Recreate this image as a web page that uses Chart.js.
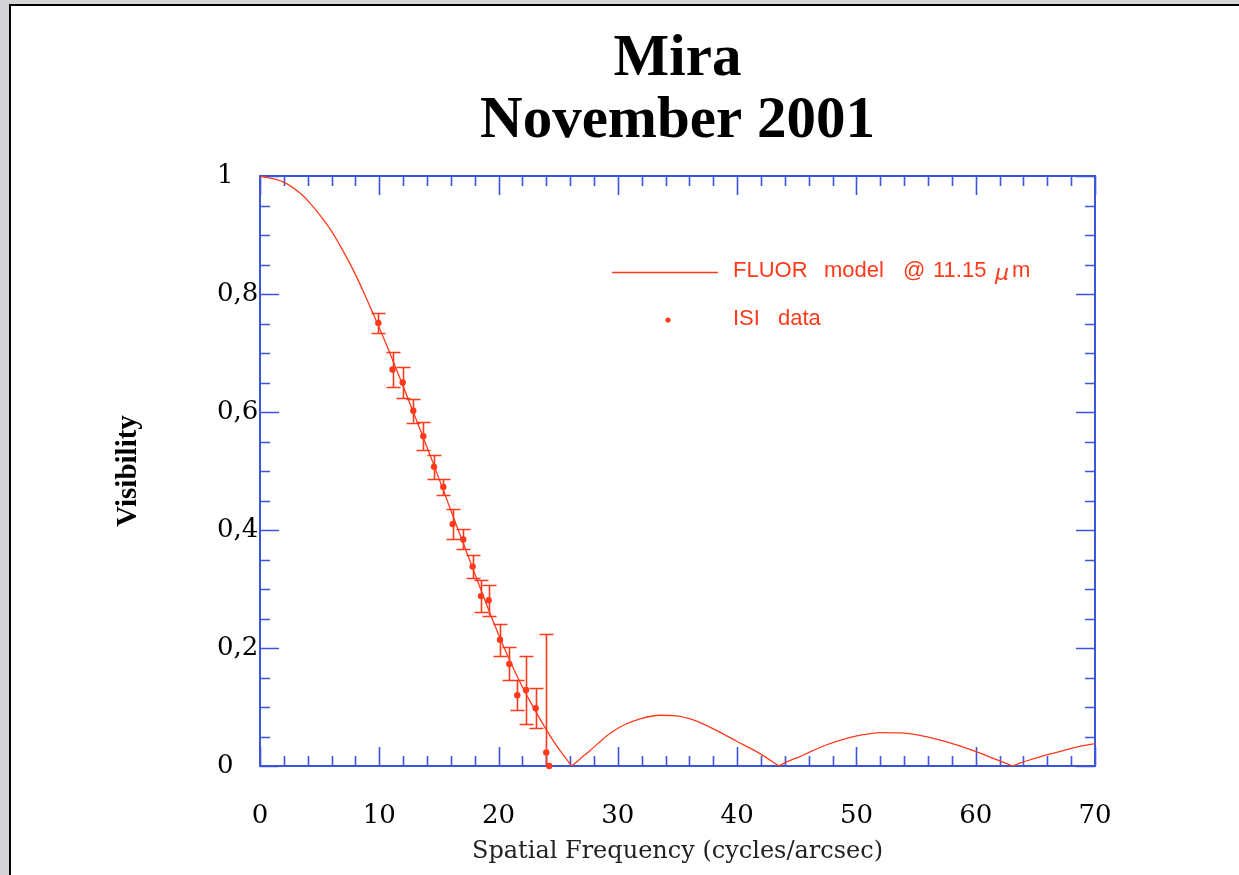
<!DOCTYPE html>
<html>
<head>
<meta charset="utf-8">
<title>Mira — November 2001</title>
<script src="https://cdn.jsdelivr.net/npm/chart.js@4.4.1/dist/chart.umd.min.js"></script>
<style>
  html, body { margin: 0; padding: 0; background: #d5d5d8; overflow: hidden; }
  #sheet { position: absolute; left: 9px; top: 4px; width: 1230px; height: 871px;
           background: #fff; border-left: 2px solid #000; border-top: 2px solid #000; }
  #c { position: absolute; left: 0; top: 0; }
</style>
</head>
<body>
<div id="sheet"></div>
<canvas id="c" width="1239" height="875"></canvas>
<script>
// FLUOR model visibility curve (spatial frequency in cycles/arcsec)
const modelFreq = [0, 1.95, 3.35, 4.19, 5.17, 6.01, 6.71, 7.40, 8.10, 8.80, 9.50, 10.06, 10.62,
  11.18, 11.88, 12.30, 12.85, 13.41, 13.83, 14.39, 14.95, 15.51, 15.93, 16.77, 17.60, 18.44,
  19.28, 20.12, 20.96, 21.80, 22.63, 23.47, 24.17, 24.87, 25.57, 26.13, 26.83, 27.66, 28.50,
  29.34, 30.46, 31.86, 33.53, 34.93, 36.32, 38.00, 39.96, 41.91, 43.50, 44.15, 45.27, 46.11,
  47.51, 49.18, 50.57, 51.97, 53.65, 55.33, 57.00, 58.40, 60.08, 61.47, 63.10, 63.71, 64.83,
  65.95, 67.34, 68.46, 70.00];
const modelVis = [1.000, 0.990, 0.971, 0.954, 0.930, 0.906, 0.882, 0.857, 0.829, 0.798, 0.766, 0.740, 0.713,
  0.685, 0.650, 0.628, 0.600, 0.571, 0.549, 0.520, 0.490, 0.460, 0.437, 0.392, 0.348, 0.303,
  0.259, 0.217, 0.178, 0.142, 0.110, 0.080, 0.056, 0.034, 0.015, 0.000, 0.012, 0.026, 0.041,
  0.055, 0.069, 0.080, 0.086, 0.085, 0.078, 0.063, 0.042, 0.021, 0.000, 0.007, 0.016, 0.024,
  0.036, 0.047, 0.053, 0.0565, 0.056, 0.052, 0.044, 0.036, 0.024, 0.013, 0.000, 0.005, 0.012,
  0.019, 0.026, 0.032, 0.038];

// ISI measurements with 1-sigma errors
const isiFreq = [9.92, 11.11, 11.96, 12.85, 13.69, 14.59, 15.37, 16.15, 17.04, 17.83,
  18.53, 19.17, 20.12, 20.90, 21.57, 22.30, 23.11, 24.00, 24.25];
const isiVis = [0.751, 0.672, 0.650, 0.602, 0.559, 0.507, 0.473, 0.410, 0.384, 0.338,
  0.288, 0.281, 0.214, 0.173, 0.120, 0.129, 0.098, 0.023, 0.000];
const isiErr = [0.017, 0.030, 0.026, 0.020, 0.024, 0.020, 0.014, 0.026, 0.017, 0.020,
  0.027, 0.026, 0.027, 0.028, 0.025, 0.058, 0.034, 0.200, 0.000];

// Axis tick labels (major ticks only)
const xMajorTicks = [0, 10, 20, 30, 40, 50, 60, 70];
const xTickLabels = ['0', '10', '20', '30', '40', '50', '60', '70'];
const yMajorTicks = [0, 0.2, 0.4, 0.6, 0.8, 1];
const yTickLabels = ['0', '0,2', '0,4', '0,6', '0,8', '1'];

const RED = '#ff3a1c';
const BLUE = '#3a54dc';

function majorIndex(list, v) {
  return list.findIndex(m => Math.abs(m - v) < 1e-6);
}

// The model has sharp nulls; each lobe is its own smooth piece so the nulls stay pointed.
function modelLobes() {
  const lobes = [];
  let start = 0;
  for (let i = 1; i < modelVis.length; i++) {
    if (modelVis[i] === 0 || i === modelVis.length - 1) {
      const pts = [];
      for (let j = start; j <= i; j++) pts.push({ x: modelFreq[j], y: modelVis[j] });
      lobes.push(pts);
      start = i;
    }
  }
  return lobes;
}

// Boxed frame with inward ticks on all four sides
const framePlugin = {
  id: 'frame',
  beforeDatasetsDraw(chart) {
    const { ctx, chartArea: a, scales: { x, y } } = chart;
    ctx.save();
    ctx.strokeStyle = BLUE;
    ctx.lineWidth = 1.6;
    ctx.beginPath();
    x.ticks.forEach(t => {
      const px = Math.round(x.getPixelForValue(t.value)) + 0.5;
      const len = majorIndex(xMajorTicks, t.value) >= 0 ? 19 : 10;
      ctx.moveTo(px, a.bottom); ctx.lineTo(px, a.bottom - len);
      ctx.moveTo(px, a.top); ctx.lineTo(px, a.top + len);
    });
    y.ticks.forEach(t => {
      const py = Math.round(y.getPixelForValue(t.value)) + 0.5;
      const len = majorIndex(yMajorTicks, t.value) >= 0 ? 19 : 10;
      ctx.moveTo(a.left, py); ctx.lineTo(a.left + len, py);
      ctx.moveTo(a.right, py); ctx.lineTo(a.right - len, py);
    });
    ctx.stroke();
    ctx.lineWidth = 2;
    ctx.strokeRect(a.left, a.top, a.right - a.left, a.bottom - a.top);
    ctx.restore();
  }
};

// Vertical error bars for the ISI points
const errorBarPlugin = {
  id: 'errorBars',
  afterDatasetsDraw(chart) {
    const { ctx, chartArea: a, scales: { y } } = chart;
    const idx = chart.data.datasets.findIndex(d => d.label === 'ISI data');
    const meta = chart.getDatasetMeta(idx);
    ctx.save();
    ctx.strokeStyle = RED;
    ctx.lineWidth = 1.6;
    ctx.beginPath();
    meta.data.forEach((pt, i) => {
      const e = isiErr[i];
      if (!e) return;
      const top = y.getPixelForValue(isiVis[i] + e);
      const bot = y.getPixelForValue(isiVis[i] - e);
      const px = Math.round(pt.x) + 0.5;
      const t = Math.max(top, a.top), b = Math.min(bot, a.bottom);
      ctx.moveTo(px, t); ctx.lineTo(px, b);
      if (top >= a.top) { ctx.moveTo(px - 7, Math.round(top) + 0.5); ctx.lineTo(px + 7, Math.round(top) + 0.5); }
      if (bot <= a.bottom) { ctx.moveTo(px - 7, Math.round(bot) + 0.5); ctx.lineTo(px + 7, Math.round(bot) + 0.5); }
    });
    ctx.stroke();
    ctx.restore();
  }
};

// Y axis title and in-plot key
const annotatePlugin = {
  id: 'annotate',
  afterDraw(chart) {
    const { ctx, chartArea: a } = chart;
    ctx.save();
    ctx.translate(129, (a.top + a.bottom) / 2);
    ctx.rotate(-Math.PI / 2);
    ctx.fillStyle = '#000';
    ctx.font = 'bold 29px "Liberation Serif", serif';
    ctx.textAlign = 'center';
    ctx.textBaseline = 'middle';
    ctx.fillText('Visibility', 0, 0);
    ctx.restore();

    ctx.save();
    ctx.strokeStyle = RED;
    ctx.fillStyle = RED;
    ctx.lineWidth = 1.4;
    ctx.beginPath();
    ctx.moveTo(612, 272.5); ctx.lineTo(718, 272.5);
    ctx.stroke();
    ctx.beginPath();
    ctx.arc(668, 320, 2.6, 0, Math.PI * 2);
    ctx.fill();
    ctx.textBaseline = 'middle';
    ctx.textAlign = 'left';
    ctx.font = '22px "Liberation Sans", Arial, sans-serif';
    ctx.fillText('FLUOR', 733, 271);
    ctx.fillText('model', 824, 271);
    ctx.fillText('@', 903, 271);
    ctx.fillText('11.15', 933, 271);
    ctx.fillText('m', 1012, 271);
    ctx.fillText('ISI', 733, 319);
    ctx.fillText('data', 778, 319);
    ctx.font = 'italic 22px "DejaVu Sans", sans-serif';
    ctx.fillText('\u03bc', 995, 274);
    ctx.restore();
  }
};

const modelSets = modelLobes().map((pts, k) => ({
  label: k === 0 ? 'FLUOR model @ 11.15 \u03bcm' : 'FLUOR model lobe ' + (k + 1),
  data: pts,
  showLine: true,
  borderColor: RED,
  borderWidth: 1.3,
  pointRadius: 0,
  cubicInterpolationMode: 'monotone',
  order: 2
}));

new Chart(document.getElementById('c'), {
  type: 'scatter',
  data: {
    datasets: [
      ...modelSets,
      {
        label: 'ISI data',
        data: isiFreq.map((f, i) => ({ x: f, y: isiVis[i] })),
        showLine: false,
        backgroundColor: RED,
        borderColor: RED,
        pointRadius: 3.2,
        pointBorderWidth: 0,
        clip: false,
        order: 1
      }
    ]
  },
  options: {
    responsive: false,
    animation: false,
    layout: { padding: { left: 217, right: 144, top: 0, bottom: 0 } },
    plugins: {
      legend: { display: false },
      tooltip: { enabled: false },
      title: {
        display: true,
        fullSize: false,
        text: ['Mira', 'November 2001'],
        color: '#000',
        font: { family: '"Liberation Serif", "Times New Roman", serif', size: 59, weight: 'bold', lineHeight: 62 / 59 },
        padding: { top: 29, bottom: 23 }
      }
    },
    scales: {
      x: {
        type: 'linear',
        min: 0, max: 70,
        grid: { display: false, drawTicks: false },
        border: { display: false },
        ticks: {
          stepSize: 2,
          autoSkip: false,
          maxRotation: 0,
          padding: 35,
          color: '#000',
          font: { family: '"DejaVu Serif", serif', size: 26 },
          callback: v => { const k = majorIndex(xMajorTicks, v); return k >= 0 ? xTickLabels[k] : ''; }
        },
        title: {
          display: true,
          text: 'Spatial Frequency (cycles/arcsec)',
          color: '#222',
          font: { family: '"DejaVu Serif", serif', size: 24 },
          padding: { top: 0, bottom: 9 }
        },
        afterFit: s => { s.height = 109; }
      },
      y: {
        type: 'linear',
        min: 0, max: 1,
        grid: { display: false, drawTicks: false },
        border: { display: false },
        ticks: {
          stepSize: 0.05,
          autoSkip: false,
          crossAlign: 'far',
          color: '#000',
          font: { family: '"DejaVu Serif", serif', size: 26 },
          callback: v => { const k = majorIndex(yMajorTicks, v); return k >= 0 ? yTickLabels[k] : ''; }
        },
        afterFit: s => { s.width = 43; }
      }
    }
  },
  plugins: [framePlugin, errorBarPlugin, annotatePlugin]
});
</script>
</body>
</html>
